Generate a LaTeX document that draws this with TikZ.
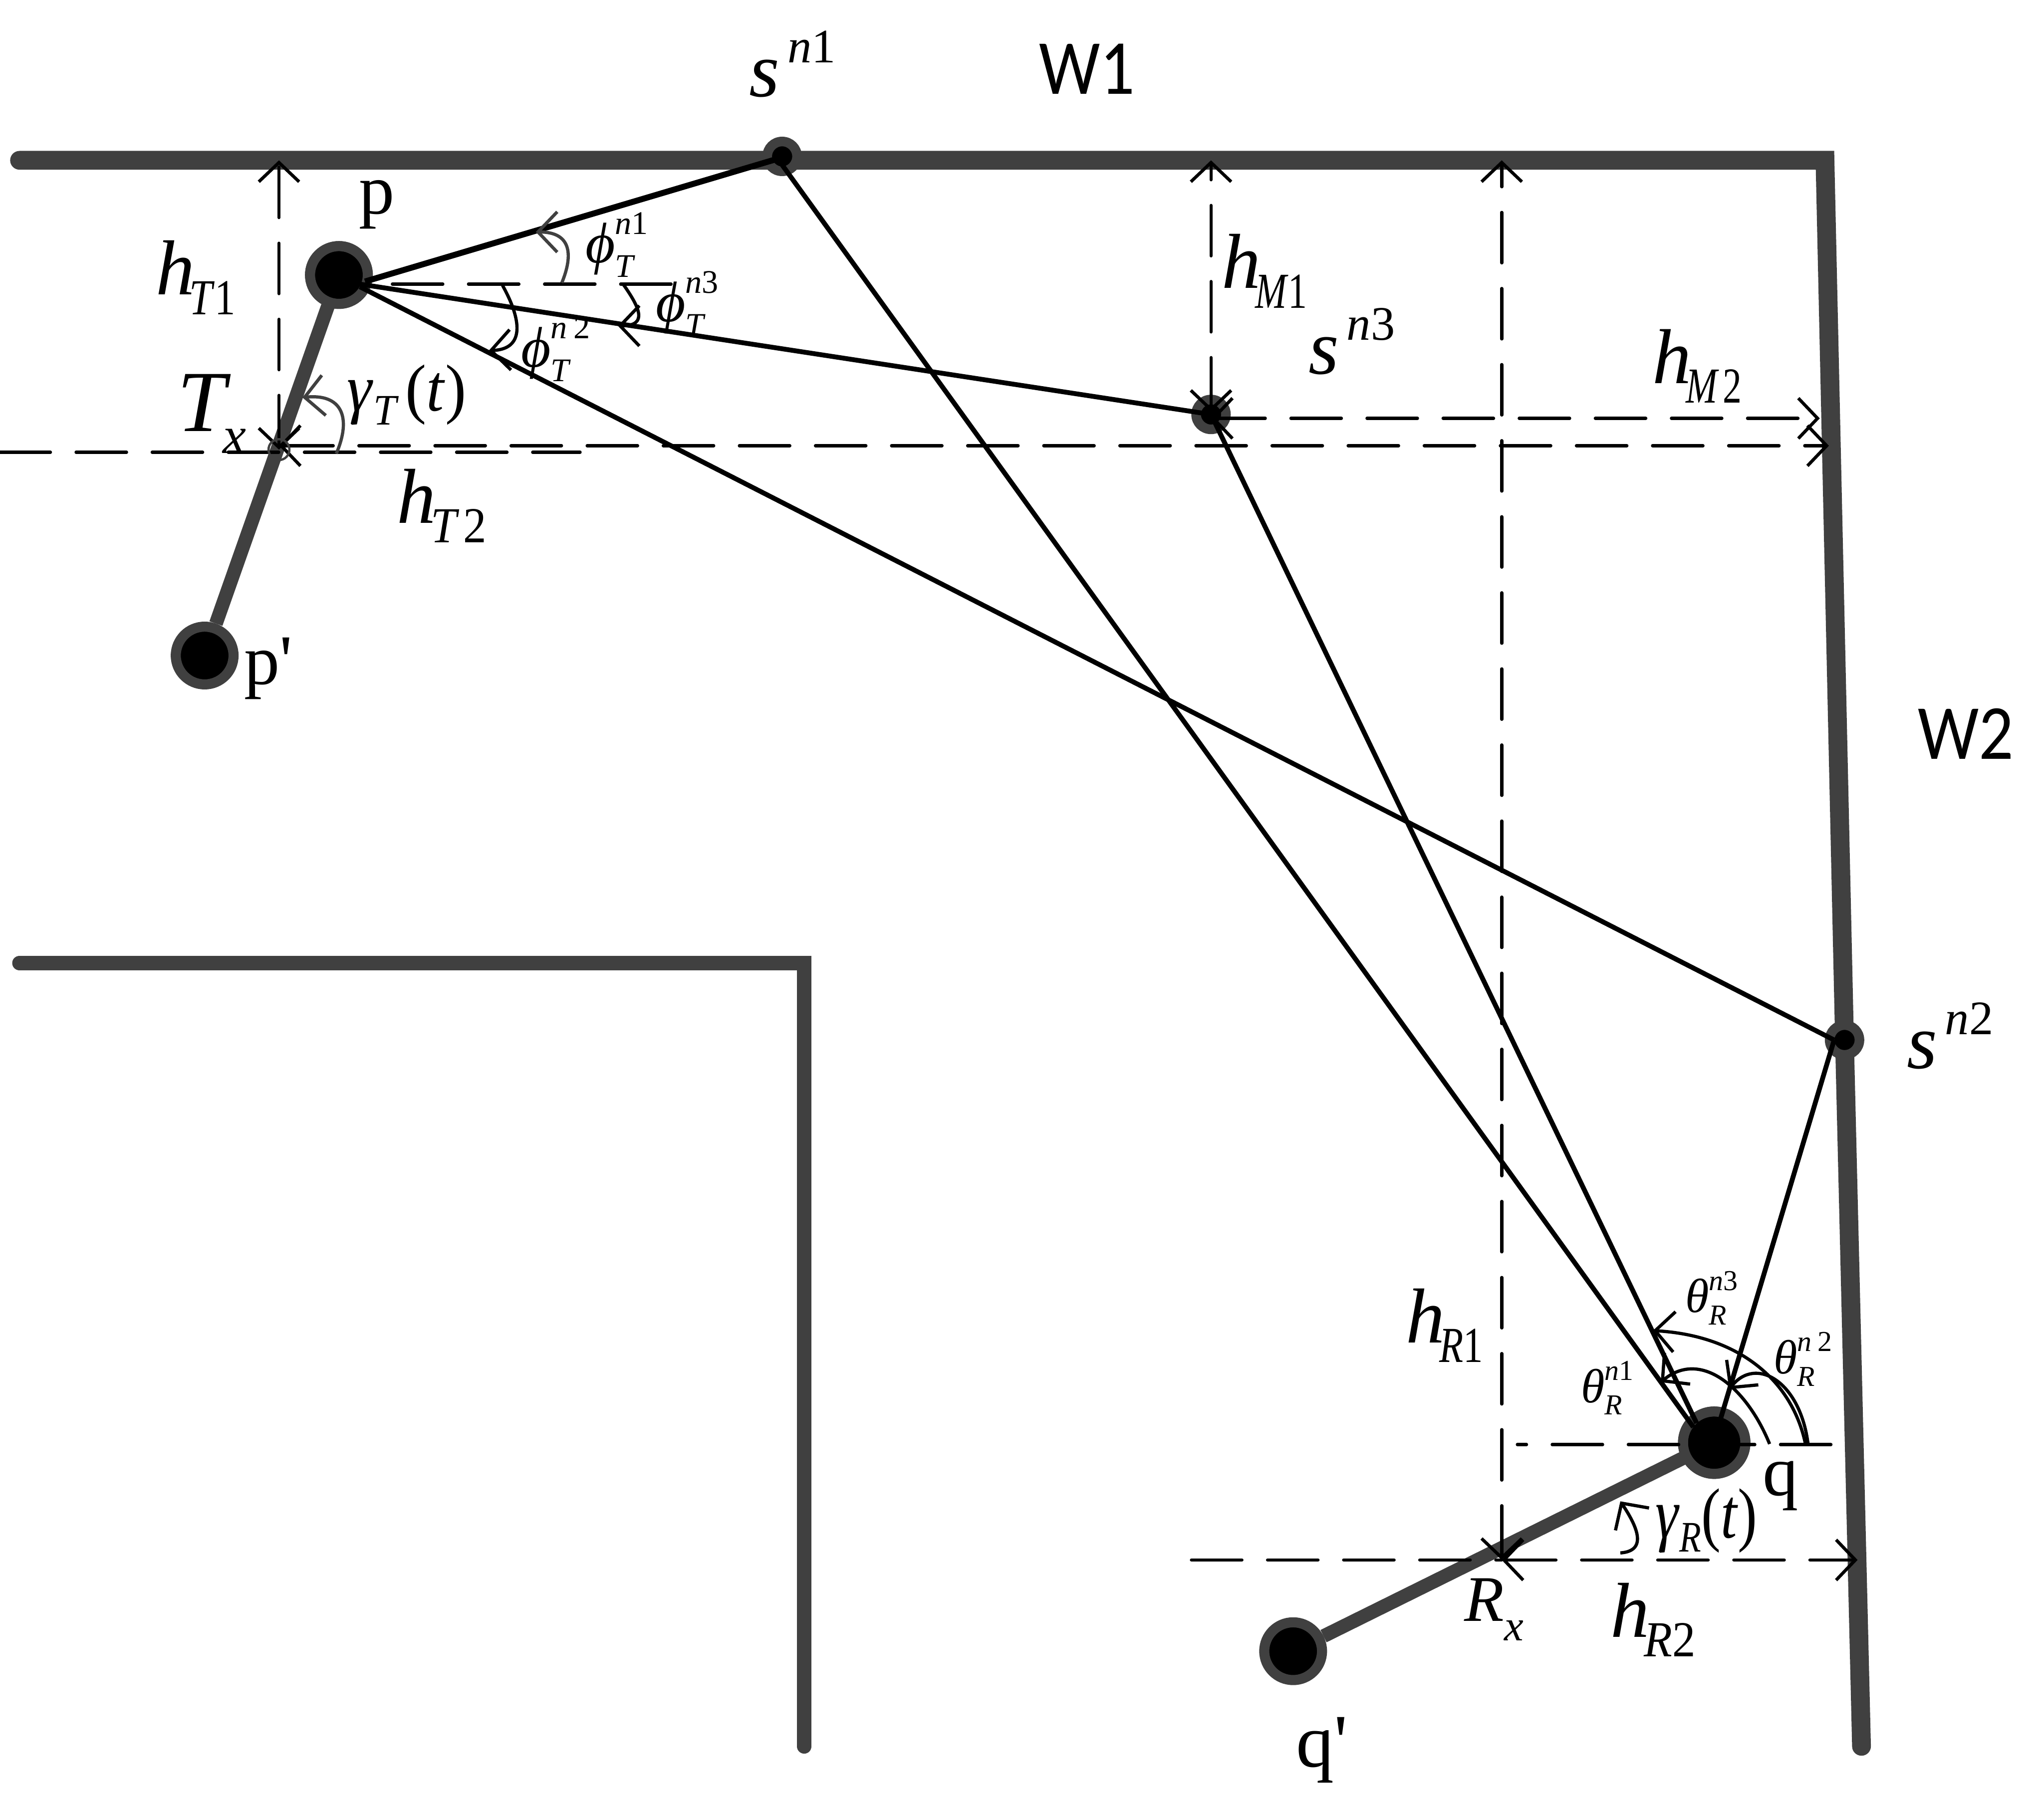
\documentclass[tikz,border=0pt]{standalone}
\usepackage{amsmath}
\usepackage{graphicx}
\usepackage{fontspec}
\setmainfont{Liberation Serif}
\newfontfamily\wfont{Carlito}
\newfontfamily\plainf{Liberation Serif}
\usetikzlibrary{arrows.meta}
\definecolor{wallc}{HTML}{404040}
\DeclareMathSizes{12.5}{12.5}{7.2}{6}
\DeclareMathSizes{10.5}{10.5}{6.3}{5}
\newcommand{\ii}[1]{\textit{#1}}
\newcommand{\uu}[1]{\textup{#1}}
\newcommand{\subsz}[2]{{\fontsize{#1}{#1}\selectfont #2}}
% base, subscript: h-type labels; optional argument narrows the subscript
\newcommand{\hlab}[3][.92]{\ii{#2}\kern-1.2pt\raisebox{-4.3pt}{\scalebox{#1}[1]{\subsz{11}{#3}}}}
\newcommand{\slab}[1]{\ii{s}\kern1.7pt\raisebox{7.4pt}{\subsz{10.5}{#1}}}
\newcommand{\anlab}[3]{$\ii{#1}_{\ii{#2}}^{#3}$}
\tikzset{
  x=0.01cm,y=-0.01cm,
  wall/.style={draw=wallc,line width=4.1pt,line cap=round,line join=miter},
  lowwall/.style={draw=wallc,line width=3.2pt,line cap=round,line join=miter},
  link/.style={draw=wallc,line width=3pt},
  ray/.style={draw=black,line width=1.05pt},
  barb/.tip={Straight Barb[length=4.2pt,width=8.8pt,line width=0.7pt]},
  dim/.style={draw=black,line width=0.7pt,dash pattern=on 11pt off 5.6pt,line cap=round},
  dimv/.style={dim,barb-barb},
  ang/.style={draw=black,line width=0.7pt,-barb},
  anggray/.style={draw=wallc,line width=0.7pt,-barb},
  big/.style={dot,draw=wallc,line width=2.2pt,minimum size=12.6pt},
  dot/.style={circle,fill=black,inner sep=0pt},
  small/.style={dot,draw=wallc,line width=2.1pt,minimum size=6.5pt},
  lbig/.style={inner sep=0pt,font=\fontsize{17}{20}\selectfont},
  lmid/.style={inner sep=0pt,font=\plainf\fontsize{15.5}{19}\selectfont},
  lsmall/.style={inner sep=0pt,font=\fontsize{12.5}{15}\selectfont},
  ltheta/.style={inner sep=0pt,font=\fontsize{10.5}{13}\selectfont},
  lwall/.style={inner sep=0pt,font=\wfont\fontsize{17}{20}\selectfont},
}
\begin{document}
\begin{tikzpicture}
\useasboundingbox (0,0) rectangle (1568,1378);
% corner and free-end coordinates
\coordinate (wa) at (15,123); \coordinate (wb) at (1400,123);
\coordinate (wc) at (1415,800); \coordinate (wd) at (1428,1340);
\coordinate (la) at (15,739); \coordinate (lb) at (617,739); \coordinate (lc) at (617,1340);
\coordinate (tx) at (214,345); \coordinate (txt) at (214,123);
\coordinate (txl) at (214,342); \coordinate (txr) at (1403,342);
\coordinate (lowl) at (0,347); \coordinate (lowr) at (445,347);
\coordinate (ph) at (301,218); \coordinate (phe) at (515,218);
\coordinate (mt) at (929,123); \coordinate (mb) at (929,316);
\coordinate (ml) at (929,321); \coordinate (mr) at (1396,321);
\coordinate (rt) at (1152,123); \coordinate (rb) at (1152,1197);
\coordinate (rl) at (1152,1197); \coordinate (rr) at (1425,1197);
\coordinate (rw) at (914,1197);
\coordinate (qh) at (1164,1108.5); \coordinate (qhe) at (1405,1108.5);
% ray end points on the dots
\coordinate (pa) at (280,216); \coordinate (pb) at (276,218); \coordinate (pc) at (276,220);
\coordinate (qa) at (1299,1095); \coordinate (qb) at (1301.5,1092); \coordinate (qc) at (1319.5,1090);
\coordinate (s1a) at (596,122); \coordinate (s1b) at (596,121); \coordinate (s2a) at (1407,798);
% walls
\draw[wall] (wa) -- (wb) -- (wc) -- (wd);
\draw[lowwall] (la) -- (lb) -- (lc);
% rods and points
\node[big] (p) at (260,211) {};
\node[big] (pp) at (157,503) {};
\node[big,minimum size=13.6pt] (q) at (1315,1107) {};
\node[big] (qp) at (992,1267) {};
\node[small] (s1) at (600,120) {};
\node[small] (s3) at (929,318) {};
\node[small] (s2) at (1415,798) {};
\draw[link] (p.center) -- (pp);
\draw[link] (q.center) -- (qp);
\node[big] at (p) {};
\node[big,minimum size=13.6pt] at (q) {};
% rays
\draw[ray,line width=1.3pt] (pa) -- (s1a);
\draw[ray] (pb) -- (s3.center);
\draw[ray] (pc) -- (s2a);
\draw[ray] (qa) -- (s1b);
\draw[ray] (qb) -- (s3.center);
\draw[ray] (qc) -- (s2a);
% dimension lines
\draw[dimv] (tx) -- (txt);
\draw[dimv] (txl) -- (txr);
\draw[dim] (lowl) -- (lowr);
\draw[dim] (ph) -- (phe);
\draw[dimv] (mb) -- (mt);
\draw[dimv] (ml) -- (mr);
\draw[dimv] (rb) -- (rt);
\draw[dimv] (rl) -- (rr);
\draw[dim] (rw) -- (rl);
\draw[dim,dash phase=9pt] (qh) -- (qhe);
% angle marks
\coordinate (a1) at (431,217); \coordinate (a1e) at (411,178);
\draw[anggray] (a1) .. controls (440,195) and (438,178) .. (a1e);
\coordinate (a2) at (385.5,219); \coordinate (a2e) at (375,269);
\draw[ang] (a2) .. controls (400,245) and (403,268) .. (a2e);
\coordinate (a3) at (478,218); \coordinate (a3e) at (474,250);
\draw[ang] (a3) .. controls (490,235) and (498,250) .. (a3e);
\coordinate (g1) at (258,348); \coordinate (g1e) at (232,305);
\draw[anggray] (g1) .. controls (270,320) and (262,302) .. (g1e);
\draw[wallc,line width=0.5pt] (tx) circle[radius=8];
\coordinate (t3) at (1385,1108); \coordinate (t3e) at (1268,1021);
\draw[ang] (t3) .. controls (1375,1060) and (1335,1025) .. (t3e);
\coordinate (t2) at (1387,1108); \coordinate (t2e) at (1326.5,1066);
\draw[ang] (t2) .. controls (1381,1060) and (1347,1040) .. (t2e);
\coordinate (t1) at (1357.5,1108); \coordinate (t1e) at (1274,1060.6);
\draw[ang] (t1) .. controls (1340,1065) and (1305,1035) .. (t1e);
\coordinate (g2) at (1243,1191.6); \coordinate (g2e) at (1243,1152);
\draw[ang] (g2) .. controls (1265,1190) and (1255,1170) .. (g2e);
% labels
\node[lwall] (w1) at (834,53) {\scalebox{.88}[1]{W1}};
\node[lwall] (w2) at (1508,563) {\scalebox{.88}[1]{W2}};
\node[lbig] (ls1) at (608,49) {\slab{\ii{n}\uu{1}}};
\node[lbig] (ls3) at (1037,262) {\slab{\ii{n}\uu{3}}};
\node[lbig] (ls2) at (1496,795) {\slab{\ii{n}\uu{2}}};
\node[lmid] (lp) at (289,157) {p};
\node[lmid] (lpp) at (206,513) {p'};
\node[lmid] (lq) at (1366,1140) {q};
\node[lmid,font=\plainf\fontsize{16.5}{19}\selectfont] (lqp) at (1014,1343) {q'};
\node[lbig] (ht1) at (150,213) {\hlab[.82]{h}{\ii{T}\uu{1}}};
\node[lbig] (ht2) at (339,388) {\hlab{h}{\ii{T}\kern1pt\uu{2}}};
\node[lbig] (hm1) at (970,208) {\hlab[.75]{h}{\ii{M}\uu{1}}};
\node[lbig] (hm2) at (1302,281) {\hlab[.75]{h}{\ii{M}\kern1pt\uu{2}}};
\node[lbig] (hr1) at (1108,1017) {\hlab[.78]{h}{\ii{R}\uu{1}}};
\node[lbig] (hr2) at (1268,1243) {\hlab{h}{\ii{R}\uu{2}}};
\node[lbig,font=\fontsize{19}{22}\selectfont] (ltx) at (162.5,317.5) {\ii{T}\kern-1.7pt\raisebox{-4.8pt}{\subsz{11.5}{\ii{x}}}};
\node[lbig,font=\fontsize{14.2}{17}\selectfont] (lrx) at (1146,1235) {\ii{R}\raisebox{-4.3pt}{\subsz{9.5}{\ii{x}}}};
\node[lbig,font=\fontsize{14.5}{17}\selectfont] (lgt) at (312,303) {\scalebox{.95}[1]{\ii{γ}\raisebox{-3pt}{\subsz{9.5}{\ii{T}}}\kern1.5pt\uu{(}\ii{t}\uu{)}}};
\node[lbig,font=\fontsize{15.5}{17}\selectfont] (lgr) at (1309,1167) {\scalebox{.82}[1]{\ii{γ}\raisebox{-3pt}{\subsz{9.5}{\ii{R}}}\uu{(}\ii{t}\uu{)}}};
\node[lsmall] (f1) at (474,188) {\anlab{ϕ}{T}{\ii{n}\uu{1}}};
\node[lsmall] (f2) at (427,268) {\anlab{ϕ}{T}{\ii{n}\,\uu{2}}};
\node[lsmall] (f3) at (528,233) {\anlab{ϕ}{T}{\ii{n}\uu{3}}};
\node[ltheta] (h1) at (1234,1065) {\anlab{θ}{R}{\ii{n}\uu{1}}};
\node[ltheta] (h2) at (1384,1043) {\anlab{θ}{R}{\ii{n}\,\uu{2}}};
\node[ltheta] (h3) at (1314,996) {\anlab{θ}{R}{\ii{n}\uu{3}}};
\end{tikzpicture}
\end{document}
